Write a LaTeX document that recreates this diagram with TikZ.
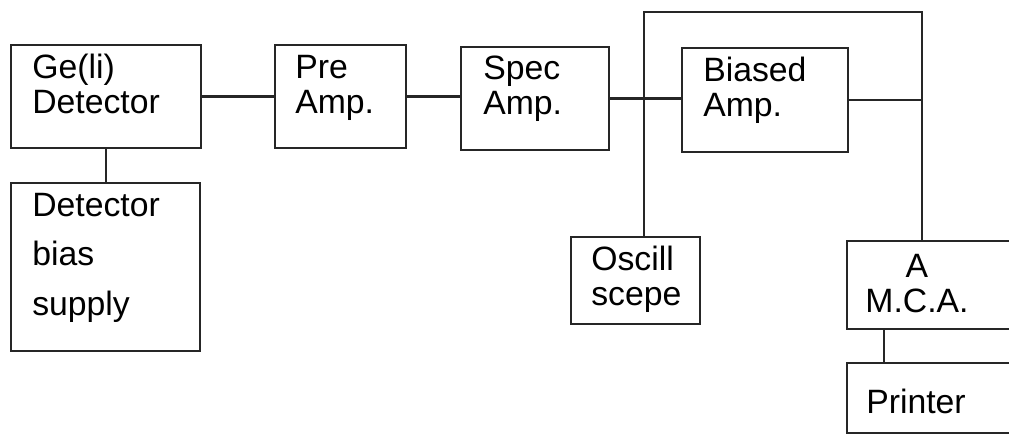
\documentclass[tikz,border=0pt]{standalone}
\usepackage{fontspec}
\setmainfont{Liberation Sans}
\usetikzlibrary{fit}
\tikzset{
  blok/.style={draw=black!85, line width=1.8pt, inner sep=0pt},
  lijn/.style={draw=black!85, line width=1.8pt},
  txt/.style={font=\fontsize{24}{24.2}\selectfont, align=left, inner sep=0pt, anchor=base west},
}

\begin{document}
\begin{tikzpicture}[x=0.025cm,y=-0.025cm]
  \useasboundingbox[fill=white] (0,0) rectangle (1009,434);
  % boxes: name/left/top/right/bottom
  \foreach \n/\l/\t/\r/\b in {ge/11/45/201/148, bias/11/183/200/351,
      pre/275/45/406/148, spec/461/47/609/150, biased/682/48/848/152,
      osc/571/237/700/324, mca/847/241/1040/329, printer/847/363/1040/433}
    \node[blok, fit={(\l,\t) (\r,\b)}] (\n) {};

  % text, placed at the baseline of its last line
  \node[txt] (geT) at (32,113) {Ge(li)\\Detector};
  \node[txt] (biasT) at (32,315) {Detector\\[11pt]bias\\[11pt]supply};
  \node[txt] (preT) at (295,113) {Pre\\Amp.};
  \node[txt] (specT) at (483,114) {Spec\\Amp.};
  \node[txt] (biasedT) at (703,116) {Biased\\Amp.};
  \node[txt] (oscT) at (591,305) {Oscill\\scepe};
  \node[txt, anchor=base, align=center] (mcaT) at (917,312) {A\\M.C.A.};
  \node[txt] (printerT) at (866,413) {Printer};

  \draw[lijn] (ge.south) -- (ge.south |- bias.north);
  \draw[lijn] (ge) -- (pre);
  \draw[lijn] (pre.east) -- (pre.east -| spec.west);
  \draw[lijn] (spec.east) -- (spec.east -| biased.west);
  \coordinate (tl) at (644,12);
  \coordinate (tr) at (922,12);
  \draw[lijn] (osc.north -| tl) -- (tl) -- (tr) -- (tr |- mca.north);
  \draw[lijn] (biased.east) -- (biased.east -| tr);
  \draw[lijn] (mca.south -| 884,0) -- (printer.north -| 884,0);
\end{tikzpicture}
\end{document}
